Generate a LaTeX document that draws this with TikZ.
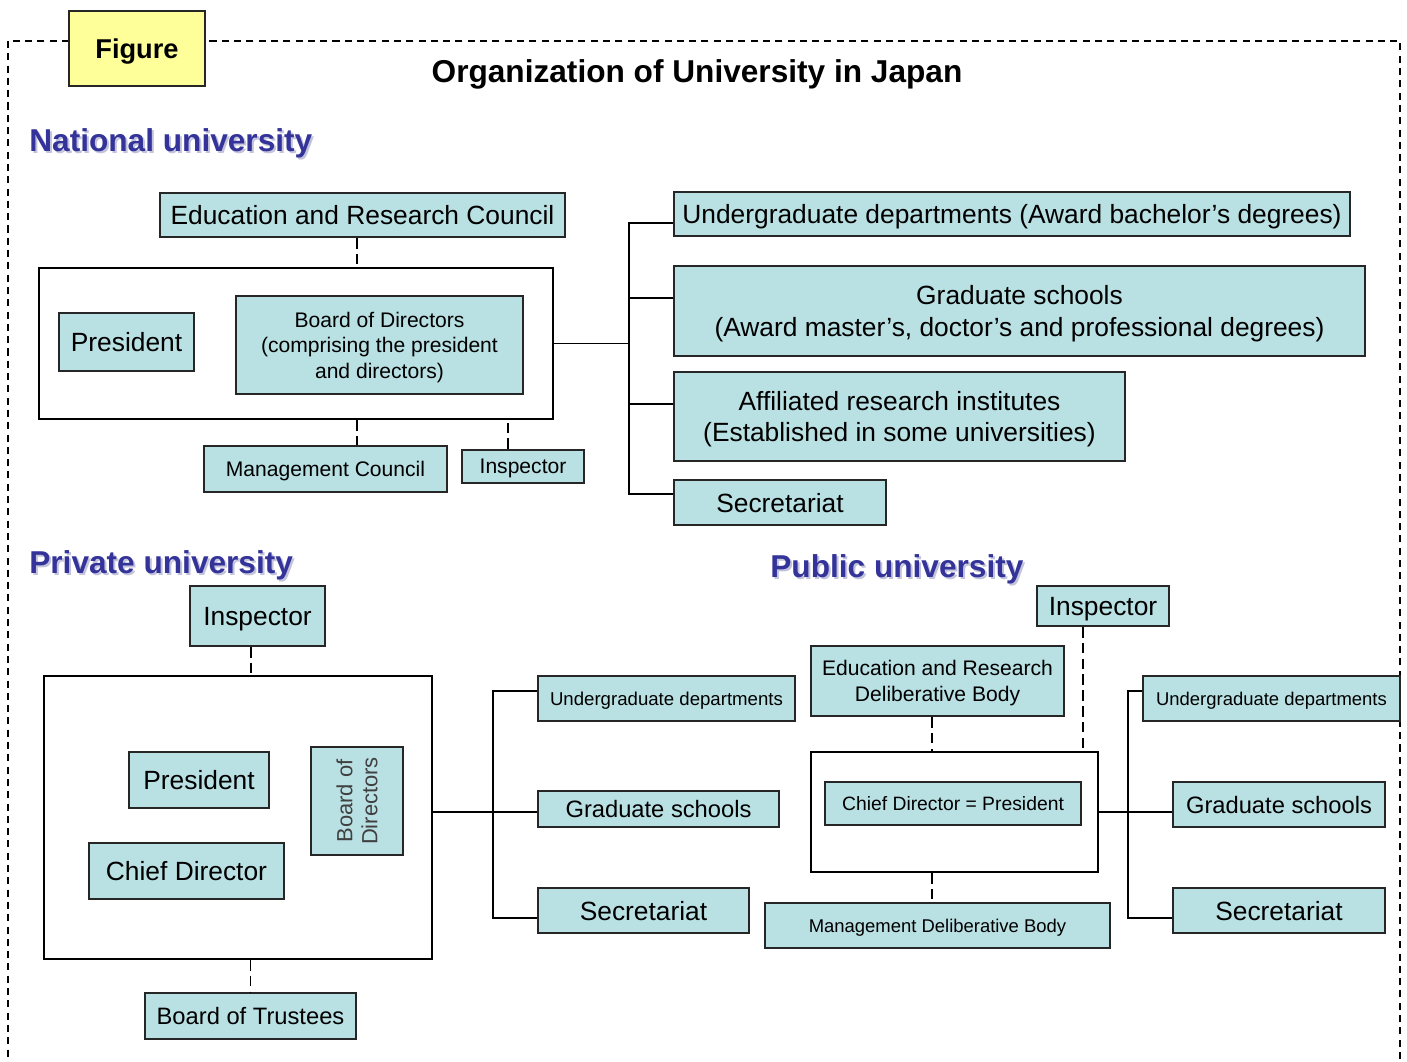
\documentclass[tikz,border=0pt]{standalone}
\usepackage{fontspec}
\setmainfont{Liberation Sans}
\usepackage{tikz}
\usetikzlibrary{calc}

\definecolor{boxblue}{RGB}{185,224,227}
\definecolor{figyellow}{RGB}{255,255,153}
\definecolor{headblue}{RGB}{51,51,153}
\definecolor{headshadow}{RGB}{195,195,220}
\newcommand{\sz}[2]{\fontsize{#1}{#2}\selectfont}

\begin{document}
\begin{tikzpicture}[x=0.02cm, y=-0.02cm,
  dims/.style 2 args={minimum width=#1*0.02cm, minimum height=#2*0.02cm},
  box/.style={draw=black!85, line width=1.1pt, fill=boxblue, inner sep=0pt, align=center, text depth=0pt},
  grp/.style={draw, line width=1.1pt, fill=white, inner sep=0pt},
  link/.style={line width=1pt},
  dashlink/.style={line width=1pt, dash pattern=on 6pt off 3pt},
  head/.style={anchor=base west, inner sep=0pt, font=\bfseries\sz{18}{22}}]

\useasboundingbox (0,0) rectangle (1407,1062);

\draw[line width=0.8pt, dash pattern=on 4pt off 3pt] (8,41) rectangle (1400,1090);

\node[box, fill=figyellow, dims={136}{75}, font=\bfseries\sz{15.5}{18}] (fig) at (137,48.5) {Figure};

\node[anchor=base, inner sep=0pt, font=\bfseries\sz{18}{22}] (title) at (697,82) {Organization of University in Japan};

\node[head, text=headshadow] (natsh) at (31,153) {National university};
\node[head, text=headblue] (nat) at (29,151) {National university};

\node[head, text=headshadow] (privsh) at (31,575) {Private university};
\node[head, text=headblue] (priv) at (29,573) {Private university};

\node[head, text=headshadow] (pubsh) at (772,579) {Public university};
\node[head, text=headblue] (pub) at (770,577) {Public university};

% national university
\node[box, dims={405}{44}, font=\sz{15}{18}] (erc) at (362.5,215) {Education and Research Council};

\node[grp, dims={514}{151}] (ngrp) at (296,343.5) {};

\node[box, dims={135}{58}, font=\sz{15}{18}] (npres) at (126.5,342) {President};

\node[box, dims={287}{98}, font=\sz{12}{14.5}] (nbod) at (379.5,345) {Board of Directors\\(comprising the president\\and directors)};

\node[box, dims={243}{46}, font=\sz{12}{14.5}] (nmgmt) at (325.5,469) {Management Council};

\node[box, dims={122}{33}, font=\sz{12}{14.5}] (ninsp) at (523,466.5) {Inspector};

\node[box, dims={676}{44}, font=\sz{15}{18}] (nug) at (1012,214) {Undergraduate departments (Award bachelor’s degrees)};

\node[box, dims={691}{90}, font=\sz{15}{18}] (ngrad) at (1019.5,311) {Graduate schools\\(Award master’s, doctor’s and professional degrees)};

\node[box, dims={451}{89}, font=\sz{15}{18}] (naff) at (899.5,416.5) {Affiliated research institutes\\(Established in some universities)};

\node[box, dims={212}{45}, font=\sz{15}{18}] (nsec) at (780,502.5) {Secretariat};

\draw[dashlink] ($(erc.south)+(-5.5,0)$) coordinate (e1) -- (e1 |- ngrp.north);
\draw[dashlink] (e1 |- ngrp.south) -- (e1 |- nmgmt.north);
\draw[dashlink] ($(ninsp.north)+(-15,0)$) coordinate (i1) -- (i1 |- ngrp.south);

\coordinate (ntr) at (629,343.5);
\draw[link] (ngrp.east) -- (ntr);
\foreach \n/\d in {nug/9, ngrad/-13, naff/-12.5, nsec/-8.5}
  \draw[link] ($(\n.west)+(0,\d)$) -| (ntr);

% private university
\node[box, dims={135}{60}, font=\sz{15}{18}] (pinsp) at (257.5,616) {Inspector};

\node[grp, dims={388}{283}] (pgrp) at (238,817.5) {};

\node[box, dims={140}{56}, font=\sz{15}{18}] (ppres) at (199,780) {President};

\node[box, dims={195}{56}, font=\sz{15}{18}] (pchief) at (186.5,871) {Chief Director};

\node[box, rotate=90, line width=1.5pt, dims={108}{92}, font=\sz{12.5}{14.2}, text=black!75] (pbod) at (357,801) {Board of\\Directors};

\node[box, dims={211}{46}, font=\sz{13.5}{16}] (ptrust) at (250.5,1016) {Board of Trustees};

\node[box, dims={257}{45}, font=\sz{10.6}{13}] (pug) at (666.5,698.5) {Undergraduate departments};

\node[box, dims={241}{36}, font=\sz{13.5}{16}] (pgrad) at (658.5,809) {Graduate schools};

\node[box, dims={211}{45}, font=\sz{15}{18}] (psec) at (643.5,910.5) {Secretariat};

\draw[dashlink] ($(pinsp.south)+(-6.5,0)$) coordinate (i2) -- (i2 |- pgrp.north);
\draw[dashlink] (ptrust.north |- pgrp.south) -- (ptrust.north);

\coordinate (ptr) at (493,812);
\draw[link] (ptr -| pgrp.east) -- (ptr -| pgrad.west);
\foreach \n/\d in {pug/-7.5, psec/7.5}
  \draw[link] ($(\n.west)+(0,\d)$) -| (ptr);

% public university
\node[box, dims={132}{40}, font=\sz{15}{18}] (uinsp) at (1103,606) {Inspector};

\node[box, dims={253}{70}, font=\sz{12}{14.7}] (uerd) at (937.5,681) {Education and Research\\Deliberative Body};

\node[grp, dims={287}{120}] (ugrp) at (954.5,812) {};

\node[box, dims={256}{43}, font=\sz{11}{13}] (uchief) at (953,803.5) {Chief Director = President};

\node[box, dims={345}{45}, font=\sz{10.5}{13}] (umdb) at (937.5,925.5) {Management Deliberative Body};

\node[box, dims={257}{45}, font=\sz{10.5}{13}] (uug) at (1271.5,698.5) {Undergraduate departments};

\node[box, dims={212}{45}, font=\sz{13.5}{16}] (ugrad) at (1279,804.5) {Graduate schools};

\node[box, dims={212}{45}, font=\sz{15}{18}] (usec) at (1279,910.5) {Secretariat};

\draw[dashlink] ($(uerd.south)+(-5.5,0)$) coordinate (e2) -- (e2 |- ugrp.north);
\draw[dashlink] (e2 |- ugrp.south) -- (e2 |- umdb.north);
\draw[dashlink] ($(uinsp.south)+(-20,0)$) coordinate (i3) -- (i3 |- ugrp.north);

\coordinate (utr) at (1128,812);
\draw[link] (ugrp.east) -- (ugrp.east -| ugrad.west);
\foreach \n/\d in {uug/-7.5, usec/7.5}
  \draw[link] ($(\n.west)+(0,\d)$) -| (utr);

\end{tikzpicture}
\end{document}
